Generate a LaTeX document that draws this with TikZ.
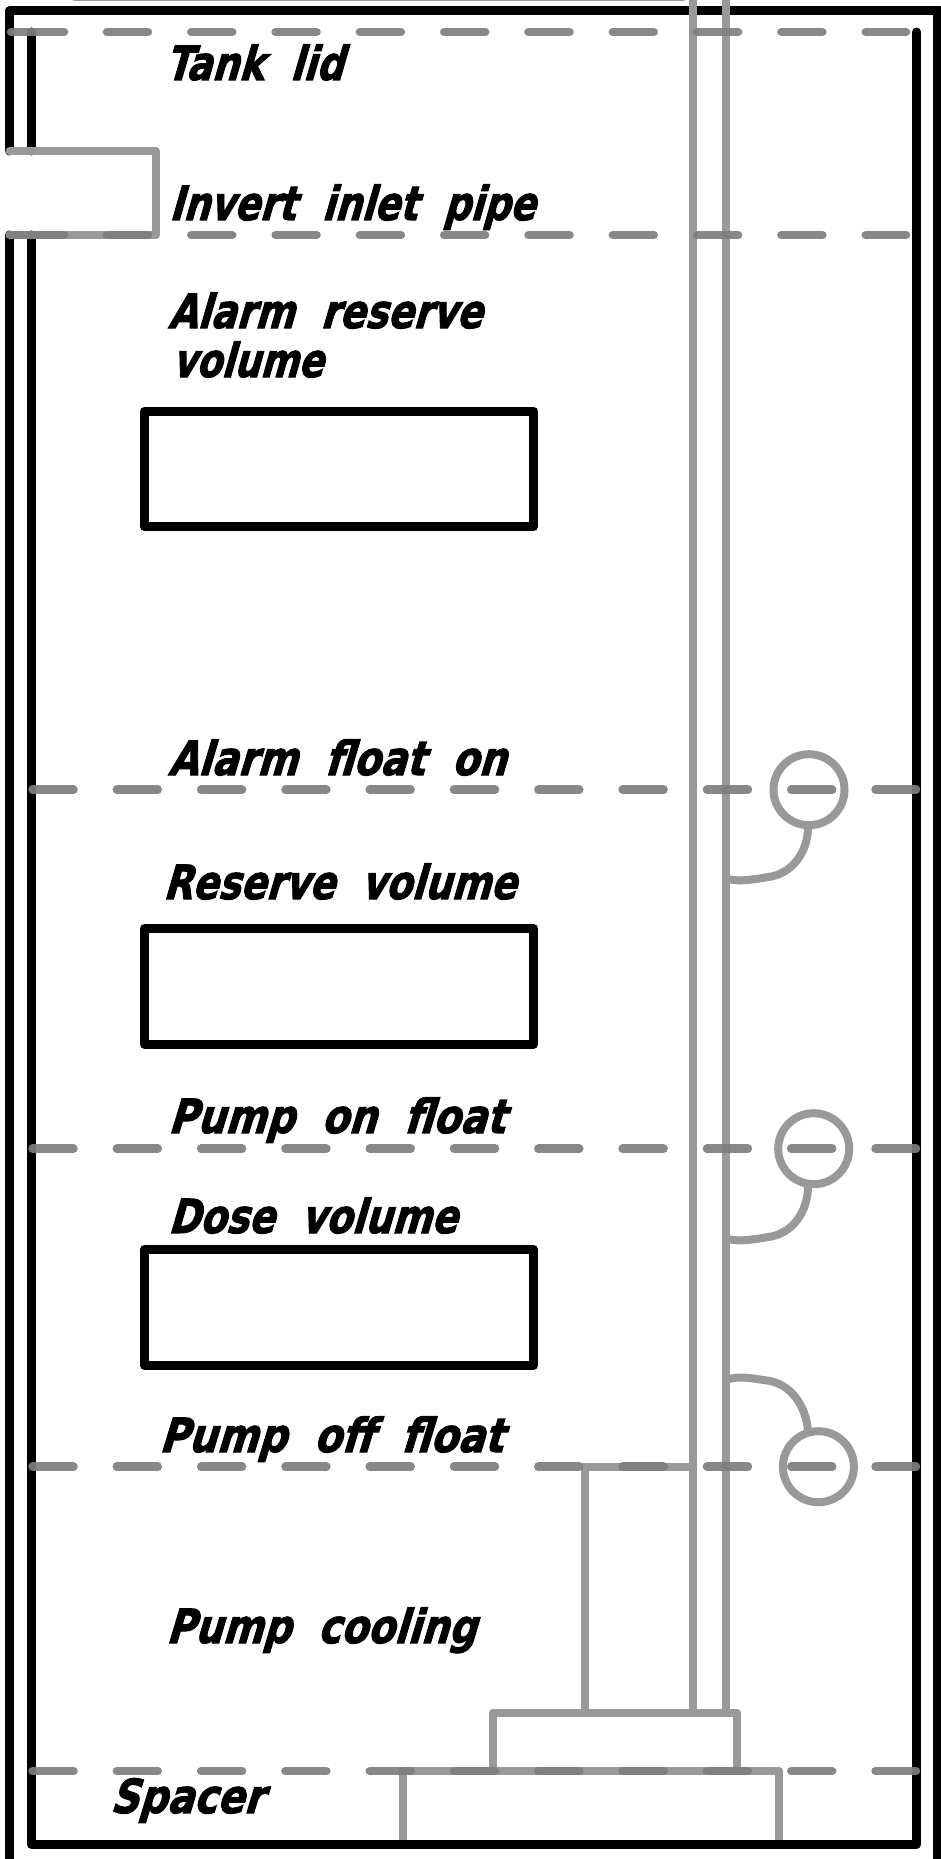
\documentclass[tikz,border=0pt]{standalone}
\usepackage{graphicx}
\usepackage{fontspec}
\newfontfamily\lblfont[FakeSlant=0.36,FakeBold=2.2,WordSpace=2.0]{DejaVu Sans Bold}
\definecolor{pipegrey}{HTML}{999999}
\definecolor{levelgrey}{HTML}{7E7E7E}
\tikzset{
  wall/.style={draw=black,line width=9pt,line cap=round,line join=round},
  part/.style={draw=pipegrey,line width=8pt,line cap=round,line join=round},
  partflat/.style={draw=pipegrey,line width=8pt,line cap=butt},
  levelline/.style={draw=levelgrey,draw opacity=.92,line width=8.5pt,line cap=round,dash pattern=on 41pt off 43.3pt},
  levelsolid/.style={draw=levelgrey,draw opacity=.92,line width=8.5pt,line cap=round},
  floatball/.style={circle,draw=pipegrey,line width=8pt,minimum size=71pt,inner sep=0pt,fill=none},
  volbox/.style={draw=black,line width=9pt,line join=round},
  lbl/.style={anchor=base west,inner sep=0pt,outer sep=0pt,text=black}
}
\newcommand{\lbltext}[5]{\node[lbl] (#1) at (#2,#4) {\resizebox{\dimexpr#3pt-#2pt\relax}{\height}{\lblfont\fontsize{47}{47}\selectfont #5}};}
\begin{document}
\begin{tikzpicture}[x=1pt,y=-1pt]
\useasboundingbox (0,0) rectangle (940,1859);
% coordinates
\coordinate (tl) at (9.5,11);
\coordinate (tr) at (940,11);
\coordinate (bl) at (9.5,1859);
\coordinate (pipeup) at (9.5,151);
\coordinate (pipedown) at (9.5,235);
\coordinate (innerTop) at (31,32);
\coordinate (innerUp) at (31,151);
\coordinate (innerDown) at (31,235);
\coordinate (innerBL) at (31,1844);
\coordinate (innerBR) at (916.5,1844);
\coordinate (innerTR) at (916.5,32);
\coordinate (outerRtop) at (937,11);
\coordinate (outerRbot) at (937,1859);
% walls
\draw[wall] (pipeup) -- (tl) -- (tr);
\draw[wall] (pipedown) -- (bl);
\draw[wall] (innerTop) -- (innerUp);
\draw[wall] (innerDown) -- (innerBL) -- (innerBR) -- (innerTR);
\draw[wall,line cap=butt] (outerRtop) -- (outerRbot);
% boxes
\node[volbox,minimum width=389.4pt,minimum height=115.7pt,inner sep=0pt,outer sep=0pt] (box1) at (339,468.9) {};
\node[volbox,minimum width=389.4pt,minimum height=115.3pt,inner sep=0pt,outer sep=0pt] (box2) at (339,986.4) {};
\node[volbox,minimum width=389.4pt,minimum height=115.7pt,inner sep=0pt,outer sep=0pt] (box3) at (339,1307.2) {};
% inlet pipe
\coordinate (pa) at (9.5,151);
\coordinate (pb) at (156,151);
\coordinate (pc) at (156,235);
\coordinate (pd) at (9.5,235);
\draw[part] (pa) -- (pb) -- (pc) -- (pd);
% riser pipes
\coordinate (r1t) at (692.5,-5);
\coordinate (r1b) at (692.5,1712.7);
\coordinate (r2t) at (725.7,-5);
\coordinate (r2b) at (725.7,1712.7);
\coordinate (stubA) at (75,-2.5);
\coordinate (stubB) at (683,-2.5);
\draw[part] (stubA) -- (stubB);
\draw[partflat] (r1t) -- (r1b);
\draw[partflat] (r2t) -- (r2b);
% pump
\coordinate (p1) at (584.5,1466.7);
\coordinate (p2) at (584.5,1712.7);
\coordinate (p3) at (692.5,1466.7);
\draw[partflat] (p2) -- (p1) -- (p3);
\coordinate (q1) at (492.8,1771);
\coordinate (q2) at (492.8,1712.7);
\coordinate (q3) at (737.4,1712.7);
\coordinate (q4) at (737.4,1771);
\draw[part] (q1) -- (q2) -- (q3) -- (q4);
\coordinate (s1) at (403,1840);
\coordinate (s2) at (403,1771);
\coordinate (s3) at (779.4,1771);
\coordinate (s4) at (779.4,1840);
\draw[part,line cap=butt] (s1) -- (s2) -- (s3) -- (s4);
% floats
\node[floatball] (f1) at (809,789.7) {};
\node[floatball] (f2) at (813.7,1148.7) {};
\node[floatball] (f3) at (818.4,1466.7) {};
\coordinate (w1) at (725.7,878.5);
\coordinate (w2) at (725.7,1238.5);
\coordinate (w3) at (725.7,1380);
\draw[part,line cap=butt] (w1) .. controls (738,882) and (750,880) .. (768.3,877) .. controls (792,874) and (808,852) .. (808,827);
\draw[part,line cap=butt] (w2) .. controls (738,1242) and (750,1240) .. (768.3,1237) .. controls (792,1234) and (808,1212) .. (808,1186);
\draw[part,line cap=butt] (w3) .. controls (738,1375.5) and (750,1378) .. (768.3,1380.7) .. controls (790,1384) and (806,1405) .. (808,1431);
% level lines
\coordinate (l1a) at (11,32); \coordinate (l1b) at (64,32);
\coordinate (l1c) at (107,32); \coordinate (l1d) at (906,32);
\draw[levelsolid] (l1a) -- (l1b);
\draw[levelline] (l1c) -- (l1d);
\coordinate (l2a) at (11,235); \coordinate (l2b) at (64,235);
\coordinate (l2c) at (107,235); \coordinate (l2d) at (906,235);
\draw[levelsolid] (l2a) -- (l2b);
\draw[levelline] (l2c) -- (l2d);
\coordinate (l3a) at (32.5,789.7); \coordinate (l3b) at (916,789.7);
\draw[levelline] (l3a) -- (l3b);
\coordinate (l4a) at (32.5,1148.7); \coordinate (l4b) at (916,1148.7);
\draw[levelline] (l4a) -- (l4b);
\coordinate (l5a) at (32.5,1466.7); \coordinate (l5b) at (916,1466.7);
\draw[levelline] (l5a) -- (l5b);
\coordinate (l6a) at (32.5,1771); \coordinate (l6b) at (916,1771);
\draw[levelline] (l6a) -- (l6b);
% labels
\lbltext{t1}{165}{343}{80}{Tank lid}
\lbltext{t2}{169}{535}{220}{Invert inlet pipe}
\lbltext{t3}{168}{482}{328}{Alarm reserve}
\lbltext{t4}{172}{323}{377}{volume}
\lbltext{t5}{168}{506}{775}{Alarm float on}
\lbltext{t6}{163}{516}{899}{Reserve volume}
\lbltext{t7}{168}{505}{1133}{Pump on float}
\lbltext{t8}{168}{457}{1233}{Dose volume}
\lbltext{t9}{159}{503}{1452}{Pump off float}
\lbltext{t10}{166}{476}{1643}{Pump cooling}
\lbltext{t11}{110}{263}{1813}{Spacer}
\end{tikzpicture}
\end{document}
